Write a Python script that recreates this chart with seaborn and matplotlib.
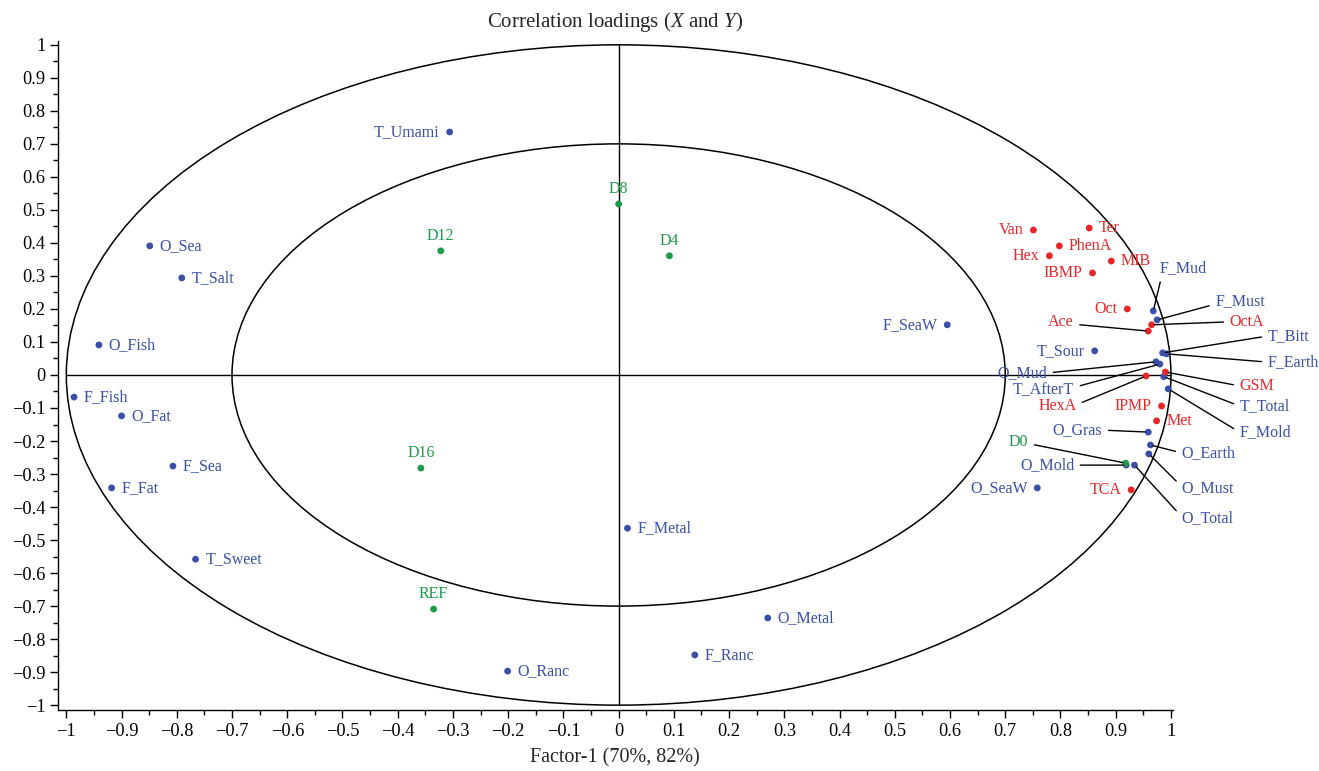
import numpy as np
import pandas as pd
import matplotlib
matplotlib.use("Agg")
import matplotlib.pyplot as plt
from matplotlib.patches import Ellipse
from matplotlib.ticker import MultipleLocator
import seaborn as sns

# ---------------- data ----------------
blue_names = ["T_Umami", "O_Sea", "T_Salt", "O_Fish", "F_Fish", "O_Fat", "F_Sea", "F_Fat",
              "T_Sweet", "O_Ranc", "F_Metal", "F_Ranc", "O_Metal", "F_SeaW", "T_Sour", "O_SeaW",
              "F_Mud", "F_Must", "T_Bitt", "F_Earth", "O_Mud", "T_AfterT", "T_Total", "F_Mold",
              "O_Gras", "O_Earth", "O_Must", "O_Mold", "O_Total"]
blue_x = [-0.306, -0.849, -0.791, -0.941, -0.986, -0.900, -0.807, -0.918,
          -0.766, -0.201, 0.016, 0.138, 0.270, 0.595, 0.862, 0.758,
          0.968, 0.975, 0.985, 0.992, 0.973, 0.980, 0.987, 0.995,
          0.959, 0.963, 0.960, 0.919, 0.934]
blue_y = [0.736, 0.391, 0.294, 0.091, -0.067, -0.124, -0.276, -0.342,
          -0.558, -0.897, -0.464, -0.848, -0.736, 0.152, 0.073, -0.342,
          0.194, 0.167, 0.067, 0.064, 0.040, 0.033, -0.005, -0.042,
          -0.173, -0.212, -0.239, -0.273, -0.273]

red_names = ["Van", "Ter", "PhenA", "Hex", "MIB", "IBMP", "Oct", "Ace", "OctA",
             "GSM", "HexA", "IPMP", "Met", "TCA"]
red_x = [0.751, 0.852, 0.798, 0.780, 0.892, 0.858, 0.921, 0.959, 0.965,
         0.990, 0.955, 0.983, 0.974, 0.928]
red_y = [0.439, 0.445, 0.391, 0.361, 0.345, 0.309, 0.200, 0.133, 0.152,
         0.009, -0.003, -0.094, -0.139, -0.348]

green_names = ["D8", "D4", "D12", "D16", "REF", "D0"]
green_x = [0.000, 0.092, -0.322, -0.358, -0.335, 0.918]
green_y = [0.518, 0.361, 0.376, -0.282, -0.709, -0.267]

x_ticks = [-1, -0.9, -0.8, -0.7, -0.6, -0.5, -0.4, -0.3, -0.2, -0.1, 0,
           0.1, 0.2, 0.3, 0.4, 0.5, 0.6, 0.7, 0.8, 0.9, 1]
y_ticks = x_ticks

title = r"Correlation loadings ($\mathit{X}$ and $\mathit{Y}$)"
xlabel = "Factor-1 (70%, 82%)"

# ---------------- styling ----------------
BLUE = "#3a4fa8"
RED = "#e8262a"
GREEN = "#1f9a4a"

sns.set_theme(style="white")
plt.rcParams["font.family"] = ["Liberation Serif", "DejaVu Serif"]
plt.rcParams["mathtext.fontset"] = "custom"
plt.rcParams["mathtext.rm"] = "Liberation Serif"
plt.rcParams["mathtext.it"] = "Liberation Serif:italic"

df = pd.concat([
    pd.DataFrame({"name": blue_names, "x": blue_x, "y": blue_y, "grp": "X"}),
    pd.DataFrame({"name": red_names, "x": red_x, "y": red_y, "grp": "Y"}),
    pd.DataFrame({"name": green_names, "x": green_x, "y": green_y, "grp": "S"}),
], ignore_index=True)
color_of = {"X": BLUE, "Y": RED, "S": GREEN}

fig = plt.figure(figsize=(13.19, 7.71), dpi=100)
ax = fig.add_axes([0.044, 0.079, 0.845, 0.868])

# circles and cross
for r in (1.0, 0.7):
    ax.add_patch(Ellipse((0, 0), 2 * r, 2 * r, fill=False, ec="black", lw=1.1, zorder=1))
ax.plot([0, 0], [-1, 1], color="black", lw=1.0, zorder=1)
ax.plot([-1, 1], [0, 0], color="black", lw=1.0, zorder=1)

sns.scatterplot(data=df, x="x", y="y", hue="grp", palette=color_of, s=24,
                edgecolor="none", legend=False, ax=ax, zorder=3)

# ---------------- labels ----------------
FS = 11.5
left_side = {"T_Umami", "F_SeaW", "T_Sour", "O_SeaW", "Van", "Hex", "IBMP", "Oct", "TCA", "IPMP"}
top_side = {"D8", "D4", "D12", "D16", "REF"}

# leader-line labels: name -> (text x, text y, ha, relpos)
leaders = {
    "F_Mud":   (0.979, 0.324, "left", (0.05, 0.0)),
    "F_Must":  (1.080, 0.224, "left", (0.0, 0.3)),
    "OctA":    (1.106, 0.161, "left", (0.0, 0.5)),
    "Ace":     (0.824, 0.161, "right", (1.0, 0.35)),
    "T_Bitt":  (1.175, 0.118, "left", (0.0, 0.5)),
    "F_Earth": (1.175, 0.039, "left", (0.0, 0.5)),
    "O_Mud":   (0.776, 0.006, "right", (1.0, 0.5)),
    "T_AfterT": (0.825, -0.047, "right", (1.0, 0.7)),
    "HexA":    (0.829, -0.095, "right", (1.0, 0.6)),
    "GSM":     (1.124, -0.033, "left", (0.0, 0.5)),
    "T_Total": (1.124, -0.094, "left", (0.0, 0.5)),
    "F_Mold":  (1.124, -0.173, "left", (0.0, 0.5)),
    "O_Gras":  (0.876, -0.167, "right", (1.0, 0.5)),
    "O_Earth": (1.019, -0.236, "left", (0.0, 0.5)),
    "O_Must":  (1.019, -0.342, "left", (0.0, 0.6)),
    "O_Total": (1.019, -0.433, "left", (0.0, 0.6)),
    "D0":      (0.742, -0.203, "right", (1.0, 0.4)),
    "O_Mold":  (0.825, -0.273, "right", (1.0, 0.5)),
}

for _, row in df.iterrows():
    c = color_of[row["grp"]]
    n = row["name"]
    if n in leaders:
        tx, ty, ha, rp = leaders[n]
        ax.annotate(n, xy=(row["x"], row["y"]), xytext=(tx, ty), ha=ha, va="center",
                    color=c, fontsize=FS,
                    arrowprops=dict(arrowstyle="-", color="black", lw=1.0,
                                    shrinkA=2, shrinkB=2, relpos=rp))
    elif n in top_side:
        ax.annotate(n, xy=(row["x"], row["y"]), xytext=(0, 5), textcoords="offset points",
                    ha="center", va="bottom", color=c, fontsize=FS)
    elif n in left_side:
        ax.annotate(n, xy=(row["x"], row["y"]), xytext=(-7, 0), textcoords="offset points",
                    ha="right", va="center", color=c, fontsize=FS)
    else:
        ax.annotate(n, xy=(row["x"], row["y"]), xytext=(7, 0), textcoords="offset points",
                    ha="left", va="center", color=c, fontsize=FS)

# ---------------- axes ----------------
ax.set_xlim(-1.015, 1.003)
ax.set_ylim(-1.015, 1.012)
ax.set_xticks(x_ticks)
ax.set_yticks(y_ticks)
ax.set_xticklabels([f"{t:g}".replace("-", "\u2212") for t in x_ticks])
ax.set_yticklabels([f"{t:g}".replace("-", "\u2212") for t in y_ticks])
ax.xaxis.set_minor_locator(MultipleLocator(0.05))
ax.yaxis.set_minor_locator(MultipleLocator(0.05))
ax.tick_params(axis="both", which="major", direction="out", length=6, width=1,
               labelsize=13.2, color="black", labelcolor="black", pad=3)
ax.tick_params(axis="both", which="minor", direction="out", length=3.5, width=1, color="black")
ax.tick_params(axis="x", bottom=True, which="both")
ax.tick_params(axis="y", left=True, which="both")
for s in ("top", "right"):
    ax.spines[s].set_visible(False)
for s in ("left", "bottom"):
    ax.spines[s].set_color("black")
    ax.spines[s].set_linewidth(1.0)
ax.set_xlabel(xlabel, fontsize=14.5, labelpad=6)
ax.set_ylabel("")
ax.set_title(title, fontsize=15, pad=10)

fig.savefig("out.png", dpi=100)
